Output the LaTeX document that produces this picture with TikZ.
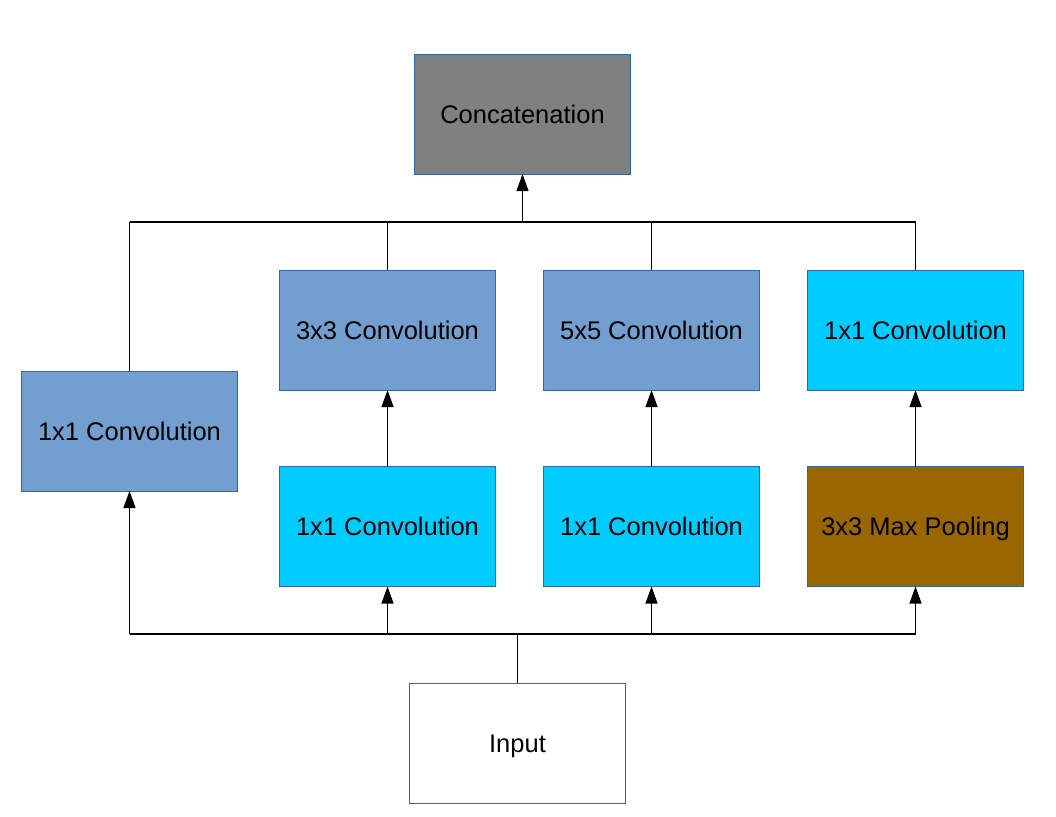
\documentclass[tikz,border=0pt]{standalone}
\usepackage{fontspec}
\setmainfont{Liberation Sans}
\usetikzlibrary{arrows.meta}
\definecolor{bord}{HTML}{3465A4}
\definecolor{blueA}{HTML}{729FCF}
\definecolor{cyanA}{HTML}{00CCFF}
\definecolor{brownA}{HTML}{996600}
\definecolor{grayA}{HTML}{808080}
\begin{document}
\begin{tikzpicture}[x=1pt,y=-1pt,
  box/.style={draw=bord, line width=0.8pt, minimum width=216pt, minimum height=120pt, inner sep=0pt, outer sep=0pt, text height=18.3pt, text depth=0pt, font=\fontsize{25.5}{30}\selectfont},
  wire/.style={line width=1.2pt, draw=black},
  arr/.style={wire, -{Triangle[width=12pt,length=17pt]}}]
\path[use as bounding box] (0,0) rectangle (1056,816);
\node[box, fill=grayA] (concat) at (522.5,114) {Concatenation};
\node[box, fill=blueA] (c1) at (129.5,431) {1x1 Convolution};
\node[box, fill=blueA] (c3) at (387.5,330) {3x3 Convolution};
\node[box, fill=blueA] (c5) at (651.5,330) {5x5 Convolution};
\node[box, fill=cyanA] (pc) at (915.5,330) {1x1 Convolution};
\node[box, fill=cyanA] (r3) at (387.5,526.5) {1x1 Convolution};
\node[box, fill=cyanA] (r5) at (651.5,526.5) {1x1 Convolution};
\node[box, fill=brownA] (pool) at (915.5,526.5) {3x3 Max Pooling};
\node[box, fill=white] (input) at (517.5,743) {Input};
\coordinate (tb) at (522.5,222);
\coordinate (bb) at (517.5,634);
% bottom bus
\draw[wire] (input.north) -- (bb);
\draw[wire] (c1.south |- bb) -- (pool.south |- bb);
\draw[arr] (c1.south |- bb) -- (c1.south);
\draw[arr] (r3.south |- bb) -- (r3.south);
\draw[arr] (r5.south |- bb) -- (r5.south);
\draw[arr] (pool.south |- bb) -- (pool.south);
% middle arrows
\draw[arr] (r3.north) -- (c3.south);
\draw[arr] (r5.north) -- (c5.south);
\draw[arr] (pool.north) -- (pc.south);
% top bus
\draw[wire] (c1.north |- tb) -- (pc.north |- tb);
\draw[wire] (c1.north) -- (c1.north |- tb);
\draw[wire] (c3.north) -- (c3.north |- tb);
\draw[wire] (c5.north) -- (c5.north |- tb);
\draw[wire] (pc.north) -- (pc.north |- tb);
\draw[arr] (tb) -- (concat.south);
\end{tikzpicture}
\end{document}
